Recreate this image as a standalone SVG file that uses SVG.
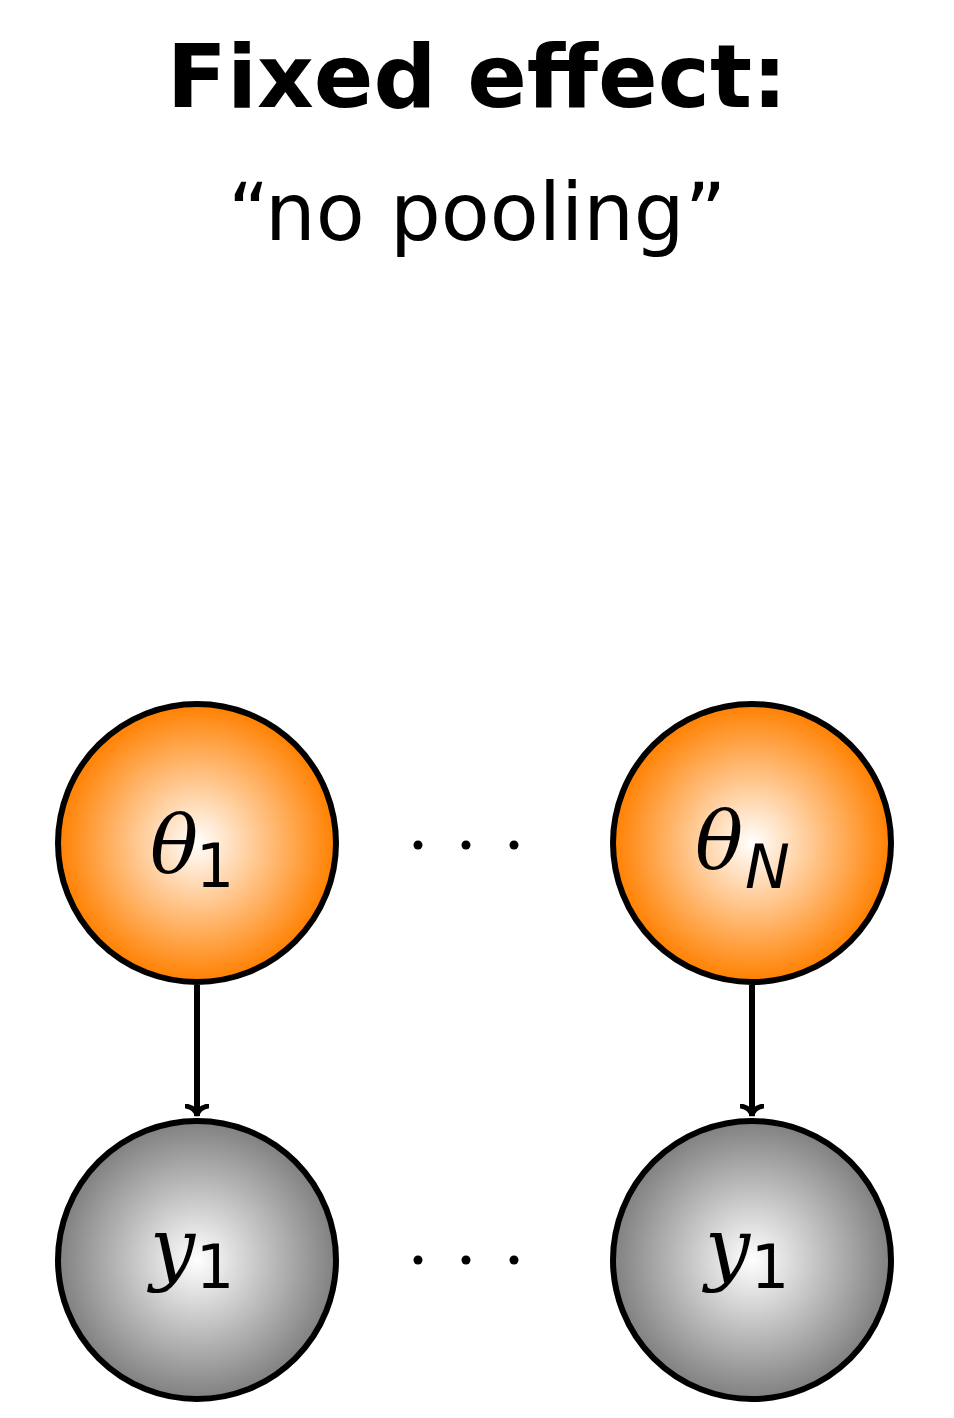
<svg xmlns="http://www.w3.org/2000/svg" width="954" height="1418" viewBox="0 0 954 1418">
<defs>
<radialGradient id="og"><stop offset="0" stop-color="#fff"/><stop offset="1" stop-color="#ff8000"/></radialGradient>
<radialGradient id="gg"><stop offset="0" stop-color="#fff"/><stop offset="1" stop-color="#808080"/></radialGradient>
<marker id="ar" viewBox="-12 -12 14 24" markerWidth="14" markerHeight="24" refX="0" refY="0" orient="auto" markerUnits="userSpaceOnUse">
<path d="M-10,-11 Q-8,-1 0,0 Q-8,1 -10,11" fill="none" stroke="#000" stroke-width="5" stroke-linecap="round"/>
</marker>
<style>
.n{stroke:#000;stroke-width:6}
.t{font-family:"DejaVu Sans",sans-serif;fill:#000}
.m{font-family:"DejaVu Serif","Liberation Serif",serif;font-style:italic;font-size:80px;fill:#000}
.s{font-family:"DejaVu Sans",sans-serif;font-size:60px;fill:#000}
</style>
</defs>
<text class="t" x="477" y="107" text-anchor="middle" font-size="88" font-weight="bold">Fixed effect:</text>
<text class="t" x="477" y="240" text-anchor="middle" font-size="80">“no pooling”</text>
<g id="connectors" stroke="#000" stroke-width="6" fill="none">
<line x1="197" y1="985" x2="197" y2="1116" marker-end="url(#ar)"/>
<line x1="752" y1="985" x2="752" y2="1116" marker-end="url(#ar)"/>
</g>
<g id="theta1"><circle class="n" cx="197" cy="843" r="139" fill="url(#og)"/><text class="m" x="150" y="872">θ</text><text class="s" x="196" y="887">1</text></g>
<g id="thetaN"><circle class="n" cx="752" cy="843" r="139" fill="url(#og)"/><text class="m" x="695" y="868">θ</text><text class="s" x="745" y="888" font-style="italic">N</text></g>
<g id="y1a"><circle class="n" cx="197" cy="1260" r="139" fill="url(#gg)"/><text class="m" x="150" y="1275">y</text><text class="s" x="196" y="1288">1</text></g>
<g id="y1b"><circle class="n" cx="752" cy="1260" r="139" fill="url(#gg)"/><text class="m" x="705" y="1275">y</text><text class="s" x="751" y="1288">1</text></g>
<g id="dots" fill="#000">
<circle cx="418" cy="845" r="4.5"/><circle cx="466" cy="845" r="4.5"/><circle cx="514" cy="845" r="4.5"/>
<circle cx="418" cy="1260" r="4.5"/><circle cx="466" cy="1260" r="4.5"/><circle cx="514" cy="1260" r="4.5"/>
</g>
</svg>
